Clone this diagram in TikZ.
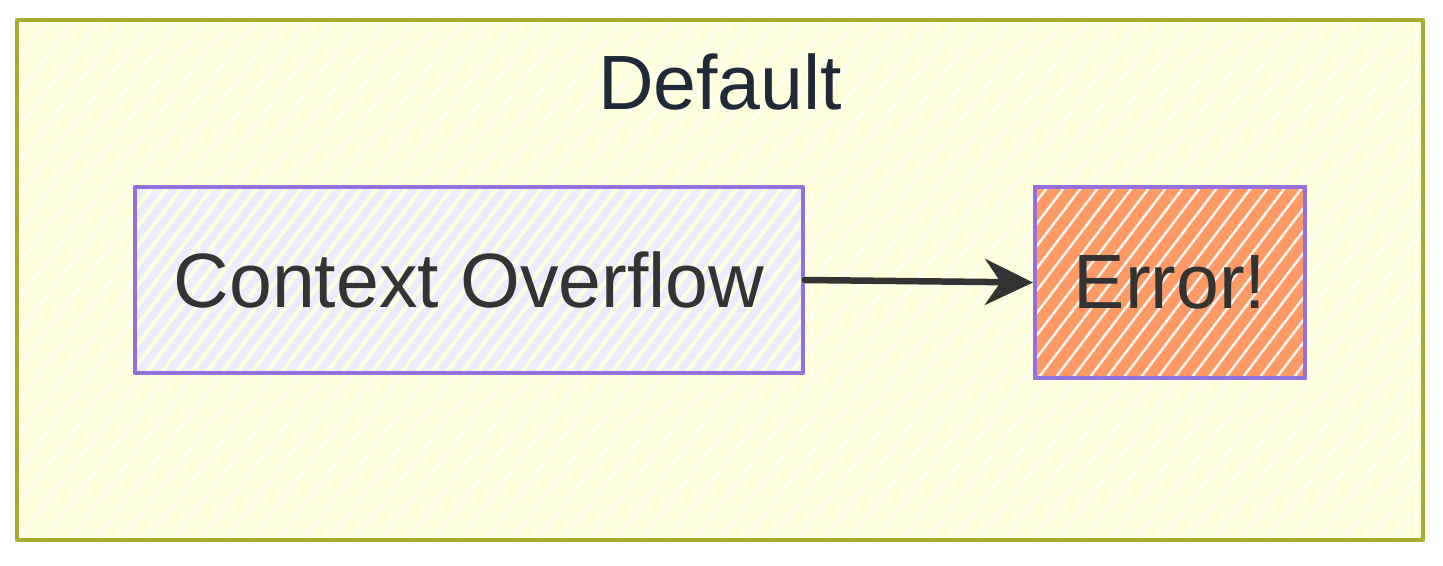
\documentclass[tikz,border=0pt]{standalone}
\usepackage{fontspec}
\setmainfont{Liberation Sans}
\usetikzlibrary{arrows.meta}
\definecolor{grpfill}{HTML}{FFFFDE}
\definecolor{grpline}{HTML}{AAAA33}
\definecolor{nodefill}{HTML}{ECECFF}
\definecolor{nodeline}{HTML}{9370DB}
\definecolor{errfill}{HTML}{FF9966}
\definecolor{txt}{HTML}{333333}
\definecolor{titletxt}{HTML}{1F2937}
\pgfdeclarelayer{bg}
\pgfsetlayers{bg,main}
\tikzset{
  box/.style={draw=nodeline, line width=4pt, inner sep=0pt, text=txt,
    font=\fontsize{77}{80}\selectfont, line join=round},
  grpbox/.style={draw=grpline, line width=4pt, inner sep=0pt, line join=round},
  conn/.style={draw=txt, line width=6.5pt, line cap=round, -{Stealth[length=48pt,width=46pt]}}
}
\begin{document}
\begin{tikzpicture}[x=1pt,y=-1pt]
\useasboundingbox (0,0) rectangle (1443,565);
\node[grpbox, minimum width=1406pt, minimum height=520pt] (grp) at (720,280) {};
\node[text=titletxt, font=\fontsize{77}{80}\selectfont, inner sep=0pt] (title) at (720,82) {Default};
\node[box, minimum width=668pt, minimum height=186pt] (a) at (469,280) {Context Overflow};
\node[box, minimum width=270pt, minimum height=191pt] (b) at (1170,282.5) {Error!};
\draw[conn] (a.east) -- (b.west);
\begin{pgfonlayer}{bg}
  \fill[grpfill] (grp.south west) rectangle (grp.north east);
  \begin{scope}
    \clip (grp.south west) rectangle (grp.north east);
    \foreach \x in {-600,-574,...,1443}
      \draw[white, opacity=0.85, line width=2.5pt] (\x,565) -- ++(430,-565);
  \end{scope}
  \fill[nodefill] (a.south west) rectangle (a.north east);
  \begin{scope}
    \clip (a.south west) rectangle (a.north east);
    \foreach \x in {-600,-585,...,1443}
      \draw[grpfill, line width=4pt] (\x,565) -- ++(430,-565);
  \end{scope}
  \fill[errfill] (b.south west) rectangle (b.north east);
  \begin{scope}
    \clip (b.south west) rectangle (b.north east);
    \foreach \x in {-600,-583,...,1443}
      \draw[white, opacity=0.9, line width=2.5pt] (\x,565) -- ++(430,-565);
  \end{scope}
\end{pgfonlayer}
\end{tikzpicture}
\end{document}
